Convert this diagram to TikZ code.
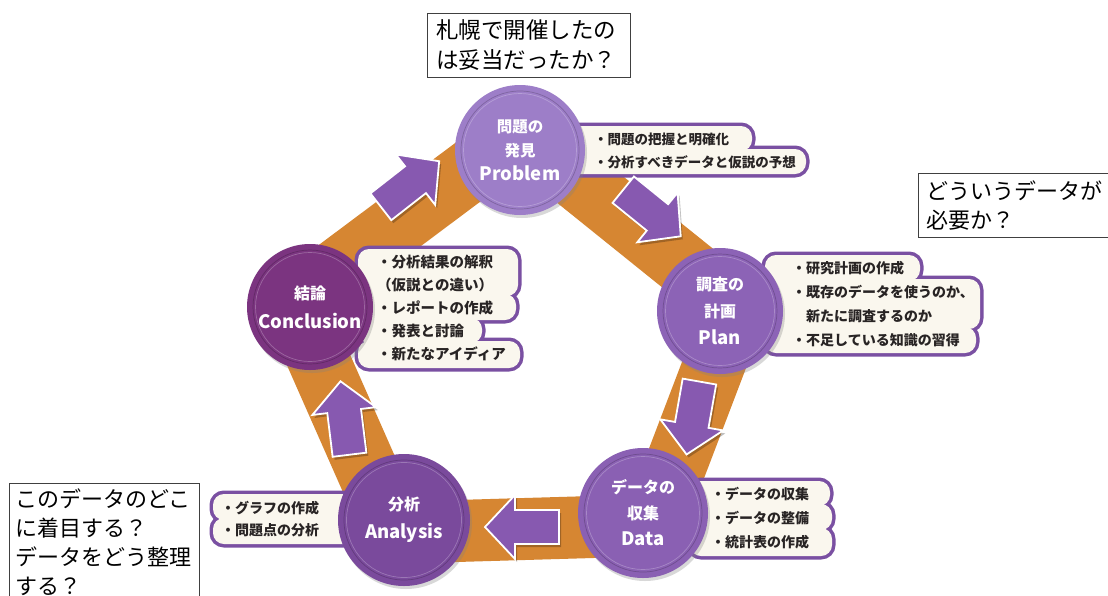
\documentclass[tikz,border=0pt]{standalone}
\usepackage{fontspec}
\newfontfamily\jp{Noto Sans CJK JP}
\usetikzlibrary{shadows,calc}
\definecolor{band}{RGB}{214,134,50}
\definecolor{cprob}{RGB}{157,126,200}
\definecolor{cplan}{RGB}{140,99,182}
\definecolor{cdata}{RGB}{138,96,179}
\definecolor{cana}{RGB}{122,74,156}
\definecolor{ccon}{RGB}{123,52,128}
\definecolor{carrow}{RGB}{135,89,176}
\definecolor{cborder}{RGB}{122,80,162}
\definecolor{cream}{RGB}{250,247,238}
\definecolor{ctext}{RGB}{40,36,36}
\pgfdeclarelayer{bg}
\pgfdeclarelayer{mid}
\pgfsetlayers{bg,mid,main}
\tikzset{
  stage/.style={circle, inner sep=0pt, text=white, align=center,
    drop shadow={opacity=0.3, shadow xshift=2pt, shadow yshift=-3pt}},
  bandline/.style={draw=band, line width=62pt, line join=round},
  seg/.style={draw=cborder, fill=cream, line width=7pt, rounded corners=11pt},
  segfill/.style={fill=cream, rounded corners=11pt},
  items/.style={text=ctext, align=left, inner sep=0pt, anchor=west},
  qbox/.style={draw=black!75, line width=0.8pt, fill=white, align=left, anchor=north west},
  blockarrow/.style={fill=carrow, draw=white, line width=1.8pt, line join=miter},
  arrowshadow/.style={fill=black, opacity=0.25},
}
\newcommand\barrow[3]{%
  \begin{scope}[shift={(#1+2,#2+3)}, rotate=#3]
    \path[arrowshadow] (-37,-17) -- (7,-17) -- (7,-32) -- (37,0) -- (7,32) -- (7,17) -- (-37,17) -- cycle;
  \end{scope}
  \begin{scope}[shift={(#1,#2)}, rotate=#3]
    \path[blockarrow] (-37,-17) -- (7,-17) -- (7,-32) -- (37,0) -- (7,32) -- (7,17) -- (-37,17) -- cycle;
  \end{scope}}
\newcommand\stagering[3]{%
  \draw[draw=#2!80!black, line width=0.7pt] (#1.center) circle (#3pt);
  \draw[draw=#2!75!white, line width=0.7pt] (#1.center) circle (#3pt-2.5pt);}
\newcommand\lat[1]{{\fontsize{18.5}{26}\selectfont #1}}
\begin{document}
\begin{tikzpicture}[x=1pt,y=-1pt]
\useasboundingbox (0,0) rectangle (1108,595);

% stages
\node[stage, fill=cprob, minimum size=130pt, font=\jp\bfseries\fontsize{15.5}{24}\selectfont] (prob) at (520,150)
  {問題の\\発見\\\lat{Problem}};
\node[stage, fill=cplan, minimum size=126pt, font=\jp\bfseries\fontsize{16}{27}\selectfont] (plan) at (720,311)
  {調査の\\計画\\\lat{Plan}};
\node[stage, fill=cdata, minimum size=130pt, font=\jp\bfseries\fontsize{16}{26}\selectfont] (data) at (643,513)
  {データの\\収集\\\lat{Data}};
\node[stage, fill=cana, minimum size=132pt, font=\jp\bfseries\fontsize{16}{28}\selectfont] (ana) at (404,520)
  {分析\\\lat{Analysis}};
\node[stage, fill=ccon, minimum size=126pt, font=\jp\bfseries\fontsize{16}{29}\selectfont] (con) at (310,307)
  {結論\\\lat{Conclusion}};
\stagering{prob}{cprob}{59}
\stagering{plan}{cplan}{57}
\stagering{data}{cdata}{59}
\stagering{ana}{cana}{60}
\stagering{con}{ccon}{57}

% bands: a pentagon ring slightly outside the stage centres
\coordinate (cen) at (519,360);
\coordinate (bprob) at ($(cen)!1.08!(prob.center)$);
\coordinate (bplan) at ($(cen)!1.08!(plan.center)$);
\coordinate (bdata) at ($(cen)!1.08!(data.center)$);
\coordinate (bana)  at ($(cen)!1.08!(ana.center)$);
\coordinate (bcon)  at ($(cen)!1.08!(con.center)$);
\begin{pgfonlayer}{bg}
  \fill[white] (0,0) rectangle (1108,595);
  \draw[bandline] (bcon) -- (bprob) -- (bplan) -- (bdata) -- (bana) -- cycle;
\end{pgfonlayer}

% callouts
\begin{pgfonlayer}{mid}
  % problem
  \path[seg] (565,126) rectangle (752,151);
  \path[seg] (565,149) rectangle (806,174);
  \path[segfill] (565,126) rectangle (752,151);
  \path[segfill] (565,149) rectangle (806,174);
  \node[items, font=\jp\bfseries\fontsize{13.5}{23}\selectfont] (probitems) at (594,151)
    {・問題の把握と明確化\\・分析すべきデータと仮説の予想};
  % plan
  \path[seg] (765,255) rectangle (920,281);
  \path[seg] (765,279) rectangle (980,329);
  \path[seg] (765,327) rectangle (976,353);
  \path[segfill] (765,255) rectangle (920,281);
  \path[segfill] (765,279) rectangle (980,329);
  \path[segfill] (765,327) rectangle (976,353);
  \node[items, font=\jp\bfseries\fontsize{14}{24}\selectfont] (planitems) at (792,304)
    {・研究計画の作成\\・既存のデータを使うのか、\\\hspace*{1em}新たに調査するのか\\・不足している知識の習得};
  % conclusion
  \path[seg] (358,249) rectangle (518,296);
  \path[seg] (358,294) rectangle (516,320);
  \path[seg] (358,318) rectangle (482,343);
  \path[seg] (358,341) rectangle (520,368);
  \path[segfill] (358,249) rectangle (518,296);
  \path[segfill] (358,294) rectangle (516,320);
  \path[segfill] (358,318) rectangle (482,343);
  \path[segfill] (358,341) rectangle (520,368);
  \node[items, font=\jp\bfseries\fontsize{14.5}{23}\selectfont] (conitems) at (377,308)
    {・分析結果の解釈\\（仮説との違い）\\・レポートの作成\\・発表と討論\\・新たなアイディア};
  % analysis
  \path[seg] (213,494) rectangle (370,520);
  \path[seg] (213,518) rectangle (370,544);
  \path[segfill] (213,494) rectangle (370,520);
  \path[segfill] (213,518) rectangle (370,544);
  \node[items, font=\jp\bfseries\fontsize{14}{22}\selectfont] (anaitems) at (221,519)
    {・グラフの作成\\・問題点の分析};
  % data
  \path[seg] (690,481) rectangle (830,506);
  \path[seg] (690,504) rectangle (832,530);
  \path[seg] (690,528) rectangle (832,556);
  \path[segfill] (690,481) rectangle (830,506);
  \path[segfill] (690,504) rectangle (832,530);
  \path[segfill] (690,528) rectangle (832,556);
  \node[items, font=\jp\bfseries\fontsize{14}{24}\selectfont] (dataitems) at (711,518)
    {・データの収集\\・データの整備\\・統計表の作成};
\end{pgfonlayer}

% arrows
\barrow{410}{184}{38}
\barrow{652}{213}{-39}
\barrow{693}{418}{-100}
\barrow{522}{527}{180}
\barrow{345}{418}{97}

% question boxes
\node[qbox, minimum width=203pt, minimum height=64pt, inner xsep=9pt, text width=185pt,
  font=\jp\fontsize{22.5}{30}\selectfont] (q1) at (427,13)
  {札幌で開催したの\\は妥当だったか？};
\node[qbox, minimum height=64pt, inner xsep=8pt, text width=200pt,
  font=\jp\fontsize{22}{29}\selectfont] (q2) at (918,173)
  {どういうデータが\\必要か？};
\node[qbox, inner xsep=6pt, inner ysep=5pt, text width=178pt,
  font=\jp\fontsize{22}{29}\selectfont] (q3) at (9,483)
  {このデータのどこ\\に着目する？\\データをどう整理\\する？};
\end{tikzpicture}
\end{document}
